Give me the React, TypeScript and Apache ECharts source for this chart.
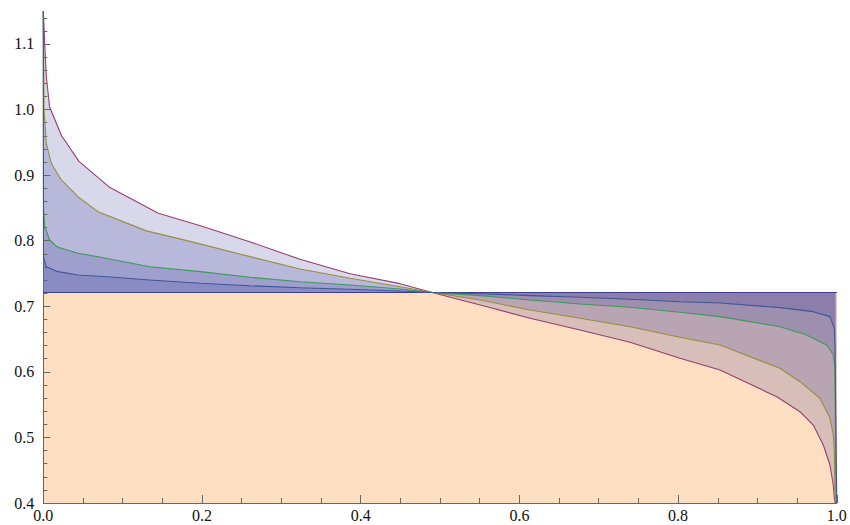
import React, { useEffect, useRef } from "react";
import * as echarts from "echarts";

// Horizontal reference level (dark blue line)
const levelValue = 0.721;

// Curve data [x, y]
const purpleCurve: number[][] = [
  [0, 1.15], [0.0018, 1.1], [0.0038, 1.05], [0.008, 1.004], [0.023, 0.96],
  [0.045, 0.921], [0.084, 0.881], [0.145, 0.842], [0.2, 0.822], [0.26, 0.7985],
  [0.3235, 0.7717], [0.3866, 0.7495], [0.4495, 0.7345], [0.49, 0.721],
  [0.5506, 0.702], [0.6134, 0.6817], [0.6764, 0.6638], [0.7394, 0.6451],
  [0.8024, 0.6207], [0.8528, 0.6028], [0.9243, 0.5621], [0.9536, 0.5392],
  [0.9704, 0.5189], [0.983, 0.4885], [0.9914, 0.458], [0.9956, 0.4275],
  [0.9969, 0.407], [0.998, 0.4],
];

const oliveCurve: number[][] = [
  [0, 1.15], [0.0009, 1.0], [0.0038, 0.9486], [0.0101, 0.918], [0.0227, 0.8926],
  [0.0437, 0.8671], [0.0689, 0.8443], [0.13, 0.815], [0.185, 0.799], [0.2605, 0.7757],
  [0.3235, 0.7569], [0.3866, 0.7427], [0.4495, 0.7299], [0.49, 0.721],
  [0.5506, 0.7096], [0.6134, 0.6943], [0.6764, 0.6817], [0.7394, 0.6689],
  [0.8024, 0.6527], [0.8528, 0.641], [0.9284, 0.6054], [0.9536, 0.585],
  [0.9788, 0.5597], [0.9914, 0.5292], [0.9956, 0.5037], [0.9969, 0.4782],
  [0.998, 0.4],
];

const greenCurve: number[][] = [
  [0, 1.15], [0.0003, 0.847], [0.0018, 0.8214], [0.008, 0.8011], [0.0169, 0.791],
  [0.0227, 0.7884], [0.0437, 0.7808], [0.0689, 0.7756], [0.1344, 0.7604],
  [0.198, 0.7528], [0.2605, 0.7442], [0.3235, 0.7375], [0.3866, 0.7325],
  [0.4495, 0.7264], [0.49, 0.721], [0.5506, 0.7162], [0.6134, 0.7096],
  [0.6764, 0.7035], [0.7394, 0.6985], [0.8024, 0.6908], [0.8528, 0.6842],
  [0.9284, 0.6689], [0.962, 0.6562], [0.9872, 0.641], [0.9956, 0.6257],
  [0.9977, 0.6054], [0.999, 0.4],
];

const blueCurve: number[][] = [
  [0, 1.15], [0.0002, 0.7756], [0.0038, 0.7604], [0.0185, 0.7528], [0.0437, 0.7477],
  [0.08, 0.7451], [0.1344, 0.7401], [0.198, 0.7351], [0.2605, 0.7314],
  [0.3235, 0.7283], [0.3866, 0.7259], [0.4495, 0.7233], [0.49, 0.721],
  [0.5506, 0.7192], [0.6134, 0.7162], [0.6764, 0.7137], [0.7394, 0.7107],
  [0.8024, 0.707], [0.8528, 0.705], [0.9284, 0.6979], [0.9704, 0.6918],
  [0.9914, 0.6842], [0.9969, 0.6664], [0.9977, 0.641], [1.0, 0.4],
];

// Tick values
const yMajorTicks = [0.4, 0.5, 0.6, 0.7, 0.8, 0.9, 1.0, 1.1];
const yMinorTicks = [
  0.42, 0.44, 0.46, 0.48, 0.52, 0.54, 0.56, 0.58, 0.62, 0.64, 0.66, 0.68,
  0.72, 0.74, 0.76, 0.78, 0.82, 0.84, 0.86, 0.88, 0.92, 0.94, 0.96, 0.98,
  1.02, 1.04, 1.06, 1.08, 1.12, 1.14,
];

const NAVY = "#3e3d99";
const PURPLE = "#993d71";
const OLIVE = "#998d3d";
const GREEN = "#3d9959";
const BLUE = "#3d5699";
const PEACH = "#fedfc1";
const FILL = "rgba(61,61,153,0.2)";
const AXIS = "#666666";

const curves = [
  { data: purpleCurve, color: PURPLE },
  { data: oliveCurve, color: OLIVE },
  { data: greenCurve, color: GREEN },
  { data: blueCurve, color: BLUE },
];

export default function App() {
  const ref = useRef<HTMLDivElement>(null);
  useEffect(() => {
    const chart = echarts.init(ref.current!, null, { renderer: "svg" });
    const levelLine = [[0, levelValue], [1, levelValue]];
    const series: any[] = [];
    series.push({
      type: "line",
      data: levelLine,
      showSymbol: false,
      symbol: "none",
      lineStyle: { width: 0, opacity: 0 },
      areaStyle: { color: PEACH, opacity: 1, origin: "start" },
      z: 1,
      silent: true,
    });
    curves.forEach((c) => {
      series.push({
        type: "line",
        data: c.data,
        symbol: "none",
        showSymbol: false,
        lineStyle: { width: 0, opacity: 0 },
        areaStyle: { color: FILL, opacity: 1, origin: levelValue },
        z: 2,
        silent: true,
      });
    });
    series.push({
      type: "line",
      data: levelLine,
      symbol: "none",
      showSymbol: false,
      lineStyle: { color: NAVY, width: 1.2 },
      z: 4,
      silent: true,
    });
    curves.forEach((c) => {
      series.push({
        type: "line",
        data: c.data,
        symbol: "none",
        showSymbol: false,
        lineStyle: { color: c.color, width: 1.1 },
        z: 4,
        silent: true,
      });
    });

    const labelStyle = {
      color: "#111",
      fontFamily: "'Liberation Serif', 'Times New Roman', serif",
      fontSize: 16,
    };

    chart.setOption({
      animation: false,
      backgroundColor: "#ffffff",
      grid: { left: 43.3, right: 13.2, top: 11.2, bottom: 22 },
      xAxis: {
        type: "value",
        min: 0,
        max: 1,
        interval: 0.2,
        z: 3,
        axisLine: { show: true, lineStyle: { color: AXIS, width: 1 } },
        axisTick: { show: true, inside: true, length: 8, lineStyle: { color: AXIS } },
        minorTick: { show: true, splitNumber: 4, length: 5, lineStyle: { color: AXIS } },
        splitLine: { show: false },
        minorSplitLine: { show: false },
        axisLabel: {
          ...labelStyle,
          margin: 4,
          formatter: (v: number) => v.toFixed(1),
        },
      },
      yAxis: [
        {
          type: "value",
          min: 0.4,
          max: 1.15,
          z: 3,
          axisLine: { show: true, lineStyle: { color: AXIS, width: 1 } },
          axisTick: {
            show: true,
            inside: true,
            length: 7,
            lineStyle: { color: AXIS },
            customValues: yMajorTicks,
          },
          splitLine: { show: false },
          axisLabel: {
            ...labelStyle,
            margin: 9,
            customValues: yMajorTicks,
            formatter: (v: number) => v.toFixed(1),
          },
        },
        {
          type: "value",
          min: 0.4,
          max: 1.15,
          position: "left",
          z: 3,
          axisLine: { show: false },
          axisTick: {
            show: true,
            inside: true,
            length: 4,
            lineStyle: { color: AXIS },
            customValues: yMinorTicks,
          },
          splitLine: { show: false },
          axisLabel: { show: false },
        },
      ],
      series,
    });
    return () => chart.dispose();
  }, []);
  return (
    <div
      ref={ref}
      style={{ position: "fixed", left: 0, top: 0, width: 850, height: 525 }}
    />
  );
}
